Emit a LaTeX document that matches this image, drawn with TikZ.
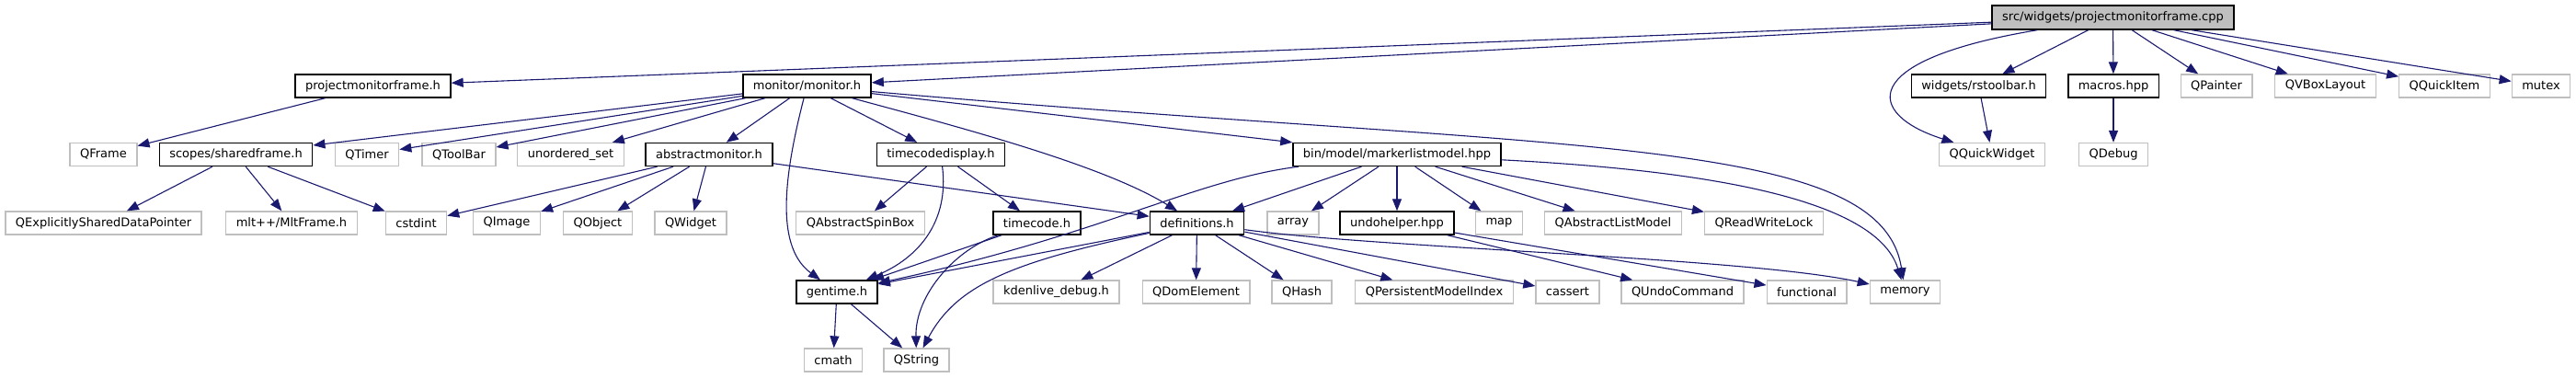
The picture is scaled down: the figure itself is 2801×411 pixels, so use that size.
\documentclass[tikz,border=0pt]{standalone}
\usepackage{fontspec}
\setmainfont{DejaVu Sans}
\usetikzlibrary{arrows.meta}

\definecolor{edgeblue}{HTML}{191970}
\definecolor{boxgrey}{HTML}{BFBFBF}

\newcommand*{\rowi}{19}
\newcommand*{\rowii}{93.5}
\newcommand*{\rowiii}{168}
\newcommand*{\rowiv}{242.5}
\newcommand*{\rowv}{317.5}
\newcommand*{\rowvi}{391.5}

\begin{document}
\begin{tikzpicture}
[
	x=1pt,
	y=-1pt,
	incl/.style={rectangle,inner xsep=11pt,inner ysep=0pt,minimum height=25pt,fill=white,font=\fontsize{13}{15}\selectfont},
	docfile/.style={incl,draw=black,line width=1.4pt},
	sysfile/.style={incl,draw=boxgrey,line width=1.3pt},
	mainfile/.style={incl,draw=black,line width=1.4pt,fill=boxgrey,minimum height=26pt},
	dep/.style={->,draw=edgeblue,line width=1.1pt},
	>={Triangle[length=13pt,width=10pt]}
]

	\useasboundingbox (0,0) rectangle (2801,411);

	% top file
	\node[mainfile] (root) at (2297.5,\rowi) {src/widgets/projectmonitorframe.cpp};

	% second row
	\node[docfile] (pmf) at (405.5,\rowii) {projectmonitorframe.h};
	\node[docfile] (monitor) at (877.5,\rowii) {monitor/monitor.h};
	\node[docfile] (rstoolbar) at (2151.5,\rowii) {widgets/rstoolbar.h};
	\node[docfile] (macros) at (2298,\rowii) {macros.hpp};
	\node[sysfile] (qpainter) at (2410,\rowii) {QPainter};
	\node[sysfile] (qvboxlayout) at (2528.5,\rowii) {QVBoxLayout};
	\node[sysfile] (qquickitem) at (2658,\rowii) {QQuickItem};
	\node[sysfile] (mutex) at (2763,\rowii) {mutex};

	% third row
	\node[sysfile] (qframe) at (112.5,\rowiii) {QFrame};
	\node[docfile] (sharedframe) at (256.5,\rowiii) {scopes/sharedframe.h};
	\node[sysfile] (qtimer) at (399,\rowiii) {QTimer};
	\node[sysfile] (qtoolbar) at (499,\rowiii) {QToolBar};
	\node[sysfile] (unorderedset) at (620.5,\rowiii) {unordered\_set};
	\node[docfile] (absmonitor) at (771,\rowiii) {abstractmonitor.h};
	\node[docfile] (tcdisplay) at (1023,\rowiii) {timecodedisplay.h};
	\node[docfile] (markerlist) at (1519,\rowiii) {bin/model/markerlistmodel.hpp};
	\node[sysfile] (qquickwidget) at (2166,\rowiii) {QQuickWidget};
	\node[sysfile] (qdebug) at (2298,\rowiii) {QDebug};

	% fourth row
	\node[sysfile] (qesdp) at (112.5,\rowiv) {QExplicitlySharedDataPointer};
	\node[sysfile] (mltframe) at (317,\rowiv) {mlt++/MltFrame.h};
	\node[sysfile] (cstdint) at (452.5,\rowiv) {cstdint};
	\node[sysfile] (qimage) at (551,\rowiv) {QImage};
	\node[sysfile] (qobject) at (650,\rowiv) {QObject};
	\node[sysfile] (qwidget) at (751,\rowiv) {QWidget};
	\node[sysfile] (qspinbox) at (935.5,\rowiv) {QAbstractSpinBox};
	\node[docfile] (timecode) at (1127.5,\rowiv) {timecode.h};
	\node[docfile] (definitions) at (1301.5,\rowiv) {definitions.h};
	\node[sysfile] (array) at (1406,\rowiv) {array};
	\node[docfile] (undohelper) at (1519,\rowiv) {undohelper.hpp};
	\node[sysfile] (map) at (1630,\rowiv) {map};
	\node[sysfile] (qlistmodel) at (1754,\rowiv) {QAbstractListModel};
	\node[sysfile] (qrwlock) at (1918,\rowiv) {QReadWriteLock};

	% fifth row
	\node[docfile] (gentime) at (910,\rowv) {gentime.h};
	\node[sysfile] (kdebug) at (1148.5,\rowv) {kdenlive\_debug.h};
	\node[sysfile] (qdom) at (1300.5,\rowv) {QDomElement};
	\node[sysfile] (qhash) at (1415.5,\rowv) {QHash};
	\node[sysfile] (qpmi) at (1559.5,\rowv) {QPersistentModelIndex};
	\node[sysfile] (cassert) at (1704.5,\rowv) {cassert};
	\node[sysfile] (qundo) at (1829.5,\rowv) {QUndoCommand};
	\node[sysfile] (functional) at (1964.5,\rowv) {functional};
	\node[sysfile] (memory) at (2071.5,\rowv) {memory};

	% last row
	\node[sysfile] (cmath) at (906,\rowvi) {cmath};
	\node[sysfile] (qstring) at (996.5,\rowvi) {QString};

	% includes of the .cpp
	\draw[dep] (root) -- (pmf);
	\draw[dep] (root) -- (monitor);
	\draw[dep] (root) .. controls (2015,66) and (2030,125) .. (qquickwidget);
	\draw[dep] (root) -- (rstoolbar);
	\draw[dep] (root) -- (macros);
	\draw[dep] (root) -- (qpainter);
	\draw[dep] (root) -- (qvboxlayout);
	\draw[dep] (root) -- (qquickitem);
	\draw[dep] (root) -- (mutex);

	% headers
	\draw[dep] (pmf) -- (qframe);
	\draw[dep] (monitor) -- (sharedframe);
	\draw[dep] (monitor) -- (qtimer);
	\draw[dep] (monitor) -- (qtoolbar);
	\draw[dep] (monitor) -- (unorderedset);
	\draw[dep] (monitor) -- (absmonitor);
	\draw[dep] (monitor) .. controls (850,200) and (845,270) .. (gentime);
	\draw[dep] (monitor) -- (tcdisplay);
	\draw[dep] (monitor) .. controls (1050,140) and (1200,180) .. (definitions);
	\draw[dep] (monitor) -- (markerlist);
	\draw[dep] (monitor) .. controls (1700,165) and (2045,145) .. (memory);
	\draw[dep] (rstoolbar) -- (qquickwidget);
	\draw[dep] (macros) -- (qdebug);

	\draw[dep] (sharedframe) -- (qesdp);
	\draw[dep] (sharedframe) -- (mltframe);
	\draw[dep] (sharedframe) -- (cstdint);
	\draw[dep] (absmonitor) -- (cstdint);
	\draw[dep] (absmonitor) -- (qimage);
	\draw[dep] (absmonitor) -- (qobject);
	\draw[dep] (absmonitor) -- (qwidget);
	\draw[dep] (absmonitor) -- (definitions);
	\draw[dep] (tcdisplay) -- (qspinbox);
	\draw[dep] (tcdisplay) .. controls (1032,240) and (1000,280) .. (gentime);
	\draw[dep] (tcdisplay) -- (timecode);

	\draw[dep] (markerlist) .. controls (1300,195) and (1200,255) .. (gentime);
	\draw[dep] (markerlist) -- (definitions);
	\draw[dep] (markerlist) -- (array);
	\draw[dep] (markerlist) -- (undohelper);
	\draw[dep] (markerlist) -- (map);
	\draw[dep] (markerlist) -- (qlistmodel);
	\draw[dep] (markerlist) -- (qrwlock);
	\draw[dep] (markerlist) .. controls (1850,185) and (2040,215) .. (memory);

	\draw[dep] (timecode) -- (gentime);
	\draw[dep] (timecode) .. controls (1040,270) and (995,320) .. (qstring);
	\draw[dep] (definitions) -- (gentime);
	\draw[dep] (definitions) .. controls (1100,285) and (1040,310) .. (qstring);
	\draw[dep] (definitions) -- (kdebug);
	\draw[dep] (definitions) -- (qdom);
	\draw[dep] (definitions) -- (qhash);
	\draw[dep] (definitions) -- (qpmi);
	\draw[dep] (definitions) -- (cassert);
	\draw[dep] (definitions) .. controls (1500,270) and (1900,280) .. (memory);
	\draw[dep] (undohelper) -- (qundo);
	\draw[dep] (undohelper) -- (functional);
	\draw[dep] (gentime) -- (cmath);
	\draw[dep] (gentime) -- (qstring);

\end{tikzpicture}
\end{document}
